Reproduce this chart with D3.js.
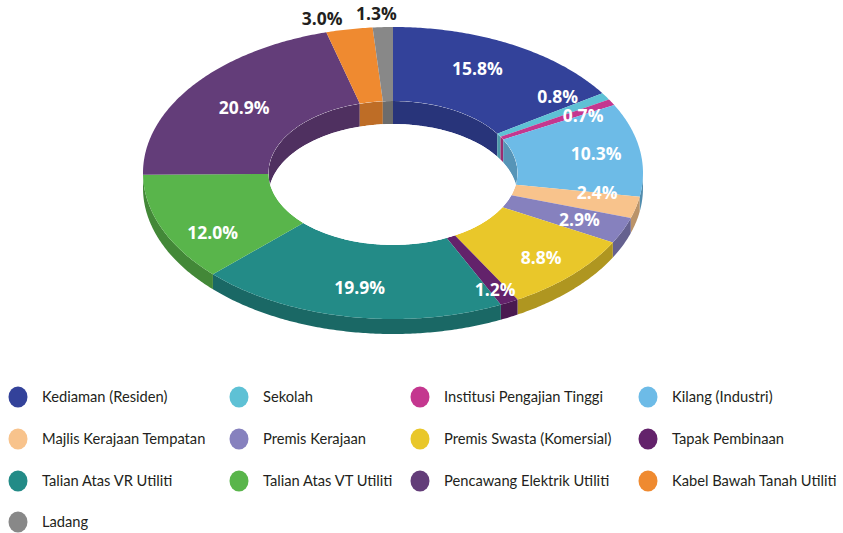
<!DOCTYPE html>
<html>
<head>
<meta charset="utf-8">
<script src="https://cdn.jsdelivr.net/npm/d3@7"></script>
<style>
  html, body { margin: 0; padding: 0; background: #fff; }
  svg { display: block; }
</style>
</head>
<body>
<svg id="chart" width="843" height="533"></svg>
<script>
// ---- data ----
const categories = [
  "Kediaman (Residen)", "Sekolah", "Institusi Pengajian Tinggi", "Kilang (Industri)",
  "Majlis Kerajaan Tempatan", "Premis Kerajaan", "Premis Swasta (Komersial)", "Tapak Pembinaan",
  "Talian Atas VR Utiliti", "Talian Atas VT Utiliti", "Pencawang Elektrik Utiliti", "Kabel Bawah Tanah Utiliti",
  "Ladang"
];
const values = [15.8, 0.8, 0.7, 10.3, 2.4, 2.9, 8.8, 1.2, 19.9, 12.0, 20.9, 3.0, 1.3];
const valueLabels = ["15.8%", "0.8%", "0.7%", "10.3%", "2.4%", "2.9%", "8.8%", "1.2%", "19.9%", "12.0%", "20.9%", "3.0%", "1.3%"];
const colors = [
  "#33429a", "#5ec1d5", "#c4378f", "#6dbbe7",
  "#f8c38c", "#8681be", "#e9c72a", "#63226b",
  "#238b87", "#59b54b", "#633d79", "#ef8a30",
  "#888888"
];

// ---- layout / style (not data) ----
const W = 843, H = 533;
const cx = 393, cy = 173;
const rxO = 250, ryO = 146, rxI = 124.5, ryI = 72;
const depthO = 15, depthI = 23;
const labelR = 0.75;
// label nudges (px) relative to the computed mid-angle anchor
const labelNudge = [[-5,-8],[5,-19],[26,-4],[18,-2],[22,-6],[14,4],[14,8],[15,20],[0,7],[-7,18],[1,0],[-38,-46],[-9,-50]];
const outsideLabel = [false,false,false,false,false,false,false,false,false,false,false,true,true];

const svg = d3.select("#chart");
svg.append("rect").attr("width", W).attr("height", H).attr("fill", "#fff");

const pie = d3.pie().sort(null).value(d => d).startAngle(0).endAngle(2 * Math.PI);
const arcs = pie(values);

const pt = (a, rx, ry, yoff) => [cx + rx * Math.sin(a), cy + yoff - ry * Math.cos(a)];
const line = d3.line();
function sample(a0, a1, rx, ry, yoff) {
  const n = Math.max(2, Math.ceil(Math.abs(a1 - a0) / 0.01));
  const out = [];
  for (let i = 0; i <= n; i++) out.push(pt(a0 + (a1 - a0) * i / n, rx, ry, yoff));
  return out;
}
function band(a0, a1, rx, ry, depth) {
  return line(sample(a0, a1, rx, ry, 0).concat(sample(a1, a0, rx, ry, depth))) + "Z";
}
function ring(a0, a1) {
  return line(sample(a0, a1, rxO, ryO, 0).concat(sample(a1, a0, rxI, ryI, 0))) + "Z";
}
const shade = (c, k) => d3.color(c).darker(k).formatHex();

const g = svg.append("g");

// outer side walls (front half)
arcs.forEach((d, i) => {
  const a0 = Math.max(d.startAngle, Math.PI / 2), a1 = Math.min(d.endAngle, 3 * Math.PI / 2);
  if (a1 > a0) g.append("path").attr("d", band(a0, a1, rxO, ryO, depthO)).attr("fill", shade(colors[i], 0.8));
});

// top faces
arcs.forEach((d, i) => {
  g.append("path").attr("d", ring(d.startAngle, d.endAngle)).attr("fill", colors[i]);
});

// inner walls (back half), clipped to the inner ellipse
svg.append("defs").append("clipPath").attr("id", "holeClip")
  .append("ellipse").attr("cx", cx).attr("cy", cy).attr("rx", rxI).attr("ry", ryI);
const gi = g.append("g").attr("clip-path", "url(#holeClip)");
gi.append("ellipse").attr("cx", cx).attr("cy", cy).attr("rx", rxI).attr("ry", ryI).attr("fill", "#fff");
arcs.forEach((d, i) => {
  [[0, Math.PI / 2], [3 * Math.PI / 2, 2 * Math.PI]].forEach(([lo, hi]) => {
    const a0 = Math.max(d.startAngle, lo), a1 = Math.min(d.endAngle, hi);
    if (a1 > a0) gi.append("path").attr("d", band(a0, a1, rxI, ryI, depthI)).attr("fill", shade(colors[i], 0.65));
  });
});
// re-cover the hole below the inner wall with white
gi.append("ellipse").attr("cx", cx).attr("cy", cy + depthI).attr("rx", rxI).attr("ry", ryI).attr("fill", "#fff");

// value labels
arcs.forEach((d, i) => {
  const mid = (d.startAngle + d.endAngle) / 2;
  const p = pt(mid, rxO * labelR, ryO * labelR, 0);
  svg.append("text")
    .attr("x", p[0] + labelNudge[i][0]).attr("y", p[1] + labelNudge[i][1])
    .attr("dy", "0.36em").attr("text-anchor", "middle")
    .attr("font-family", "'Open Sans', sans-serif").attr("font-weight", 700)
    .attr("font-size", "17.5px")
    .attr("fill", outsideLabel[i] ? "#231f20" : "#ffffff")
    .text(valueLabels[i]);
});

// legend
const colX = [18, 239, 420, 648];
const rowY = [397, 439, 481, 522];
const lg = svg.append("g");
categories.forEach((c, i) => {
  const x = colX[i % 4], y = rowY[Math.floor(i / 4)];
  lg.append("ellipse").attr("cx", x).attr("cy", y).attr("rx", 9.5).attr("ry", 10.5).attr("fill", colors[i]);
  lg.append("text").attr("x", x + 24).attr("y", y).attr("dy", "0.35em")
    .attr("font-family", "Lato, sans-serif").attr("font-size", "14.7px").attr("fill", "#231f20")
    .text(c);
});
</script>
</body>
</html>
